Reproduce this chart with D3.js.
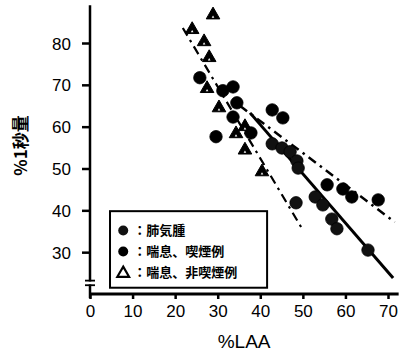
<!DOCTYPE html>
<html>
<head>
<meta charset="utf-8">
<script src="https://cdn.jsdelivr.net/npm/d3@7"></script>
<style>
  html, body { margin: 0; padding: 0; background: #fff; }
  svg { display: block; }
</style>
</head>
<body>
<svg id="chart" width="399" height="354"></svg>
<script>
// ---- data ----
const xTicks = [0, 10, 20, 30, 40, 50, 60, 70];
const yTicks = [30, 40, 50, 60, 70, 80];

// 肺気腫 (emphysema)
const emphysemaX = [42.8, 45.1, 47.0, 48.6, 48.9, 48.4, 52.9, 54.7, 56.8, 58.0, 65.3];
const emphysemaY = [55.9, 54.9, 54.0, 51.8, 50.1, 41.8, 43.2, 41.3, 37.9, 35.6, 30.5];

// 喘息、喫煙例 (asthma, smokers)
const smokerX = [25.8, 31.2, 33.6, 34.5, 33.6, 29.6, 37.8, 42.8, 45.3, 55.7, 59.4, 61.5, 67.7];
const smokerY = [71.7, 68.6, 69.5, 65.7, 62.3, 57.6, 58.5, 64.0, 62.1, 46.1, 45.1, 43.2, 42.5];

// 喘息、非喫煙例 (asthma, non-smokers)
const nonSmokerX = [28.9, 24.0, 26.8, 28.0, 27.5, 30.3, 36.4, 34.3, 36.4, 40.4];
const nonSmokerY = [86.7, 83.2, 80.3, 76.5, 69.1, 64.5, 60.0, 58.3, 54.4, 49.2];

// regression lines: [x1, y1, x2, y2]
const lineEmphysema = [37.6, 63.3, 71.2, 23.8];
const lineSmoker = [35.2, 65.0, 71.6, 37.2];
const lineNonSmoker = [21.8, 83.6, 50.0, 35.3];

const legendLabels = ["肺気腫", "喘息、喫煙例", "喘息、非喫煙例"];
const xLabel = "%LAA";
const yLabel = "%1秒量";

// ---- drawing ----
const svg = d3.select("#chart");
svg.append("rect").attr("width", 399).attr("height", 354).attr("fill", "#fff");

const x = d3.scaleLinear().domain([0, 70]).range([90, 388]);
const y = d3.scaleLinear().domain([20, 80]).range([294, 43]);

const numFont = "'Liberation Sans', Arial, sans-serif";
const jpFont = "'Noto Sans CJK JP', 'Noto Sans CJK SC', sans-serif";

// Y axis
const yAxis = d3.axisLeft(y).tickValues(yTicks).tickSize(8).tickPadding(11);
const gy = svg.append("g").attr("transform", `translate(${x(0)},0)`).call(yAxis);
gy.select(".domain").remove();
gy.selectAll(".tick line").attr("stroke", "#000").attr("stroke-width", 2.5);
gy.selectAll(".tick text").attr("font-family", numFont).attr("font-size", 17)
  .attr("fill", "#000").attr("dy", "0.36em");

// y axis line with break
const axisG = svg.append("g").attr("stroke", "#000").attr("fill", "none");
axisG.append("line").attr("x1", x(0)).attr("x2", x(0)).attr("y1", y(89)).attr("y2", y(23.0))
  .attr("stroke-width", 2.5);
axisG.append("line").attr("x1", x(0)).attr("x2", x(0)).attr("y1", y(22.3)).attr("y2", y(19))
  .attr("stroke-width", 2.5);
[23.2, 22.1].forEach(v => {
  axisG.append("line").attr("x1", x(0) - 5).attr("x2", x(0) + 5)
    .attr("y1", y(v)).attr("y2", y(v)).attr("stroke-width", 1.8);
});

// X axis
const xAxis = d3.axisBottom(x).tickValues(xTicks).tickSize(5).tickPadding(6);
const gx = svg.append("g").attr("transform", `translate(0,${y(20)})`).call(xAxis);
gx.select(".domain").remove();
gx.selectAll(".tick line").attr("stroke", "#000").attr("stroke-width", 2.5);
gx.selectAll(".tick text").attr("font-family", numFont).attr("font-size", 17).attr("fill", "#000");
axisG.append("line").attr("x1", x(0)).attr("x2", x(72.5)).attr("y1", y(20)).attr("y2", y(20))
  .attr("stroke-width", 3);

// Axis titles
svg.append("text").attr("x", x(36.2)).attr("y", 348).attr("text-anchor", "middle")
  .attr("font-family", numFont).attr("font-size", 19).text(xLabel);
svg.append("text").attr("transform", `translate(27,${y(55.5)}) rotate(-90)`)
  .attr("text-anchor", "middle").attr("font-family", jpFont).attr("font-weight", "bold")
  .attr("font-size", 17).text(yLabel);

// regression lines
function drawLine(arr, dash, w) {
  svg.append("line")
    .attr("x1", x(arr[0])).attr("y1", y(arr[1]))
    .attr("x2", x(arr[2])).attr("y2", y(arr[3]))
    .attr("stroke", "#000").attr("stroke-width", w)
    .attr("stroke-dasharray", dash);
}
drawLine(lineEmphysema, null, 3);
drawLine(lineSmoker, "9,5,2.5,5", 2.5);
drawLine(lineNonSmoker, "9,5,2.5,5", 2.2);

// points
const tri = d3.symbol().type(d3.symbolTriangle).size(80);
const triInner = d3.symbol().type(d3.symbolTriangle).size(3);

function circles(xs, ys, fill) {
  svg.append("g").selectAll("circle").data(xs.map((v, i) => [v, ys[i]])).join("circle")
    .attr("cx", d => x(d[0])).attr("cy", d => y(d[1])).attr("r", 6.2)
    .attr("fill", fill).attr("stroke", "#000").attr("stroke-width", 0.8);
}
circles(emphysemaX, emphysemaY, "#111");
circles(smokerX, smokerY, "#000");

const tg = svg.append("g").selectAll("g").data(nonSmokerX.map((v, i) => [v, nonSmokerY[i]])).join("g")
  .attr("transform", d => `translate(${x(d[0])},${y(d[1])})`);
tg.append("path").attr("d", tri).attr("fill", "#000").attr("stroke", "#000").attr("stroke-width", 1);
tg.append("path").attr("d", triInner).attr("fill", "#fff").attr("transform", "translate(0,2)");

// legend
const lg = svg.append("g");
lg.append("rect").attr("x", x(4.7)).attr("y", y(39.8)).attr("width", x(41.6) - x(4.7))
  .attr("height", y(21.5) - y(39.8)).attr("fill", "#fff").attr("stroke", "#000").attr("stroke-width", 2);
legendLabels.forEach((lab, i) => {
  const cy = y(35.2) + i * 21;
  const sx = x(7.8);
  if (i < 2) {
    lg.append("circle").attr("cx", sx).attr("cy", cy).attr("r", 5).attr("fill", i === 0 ? "#111" : "#000");
  } else {
    lg.append("path").attr("d", d3.symbol().type(d3.symbolTriangle).size(60))
      .attr("transform", `translate(${sx},${cy + 1})`).attr("fill", "#fff")
      .attr("stroke", "#000").attr("stroke-width", 2.2);
  }
  lg.append("text").attr("x", sx + 10).attr("y", cy).attr("dy", "0.36em")
    .attr("font-family", jpFont).attr("font-weight", "bold").attr("font-size", 13)
    .text("：" + lab);
});
</script>
</body>
</html>
